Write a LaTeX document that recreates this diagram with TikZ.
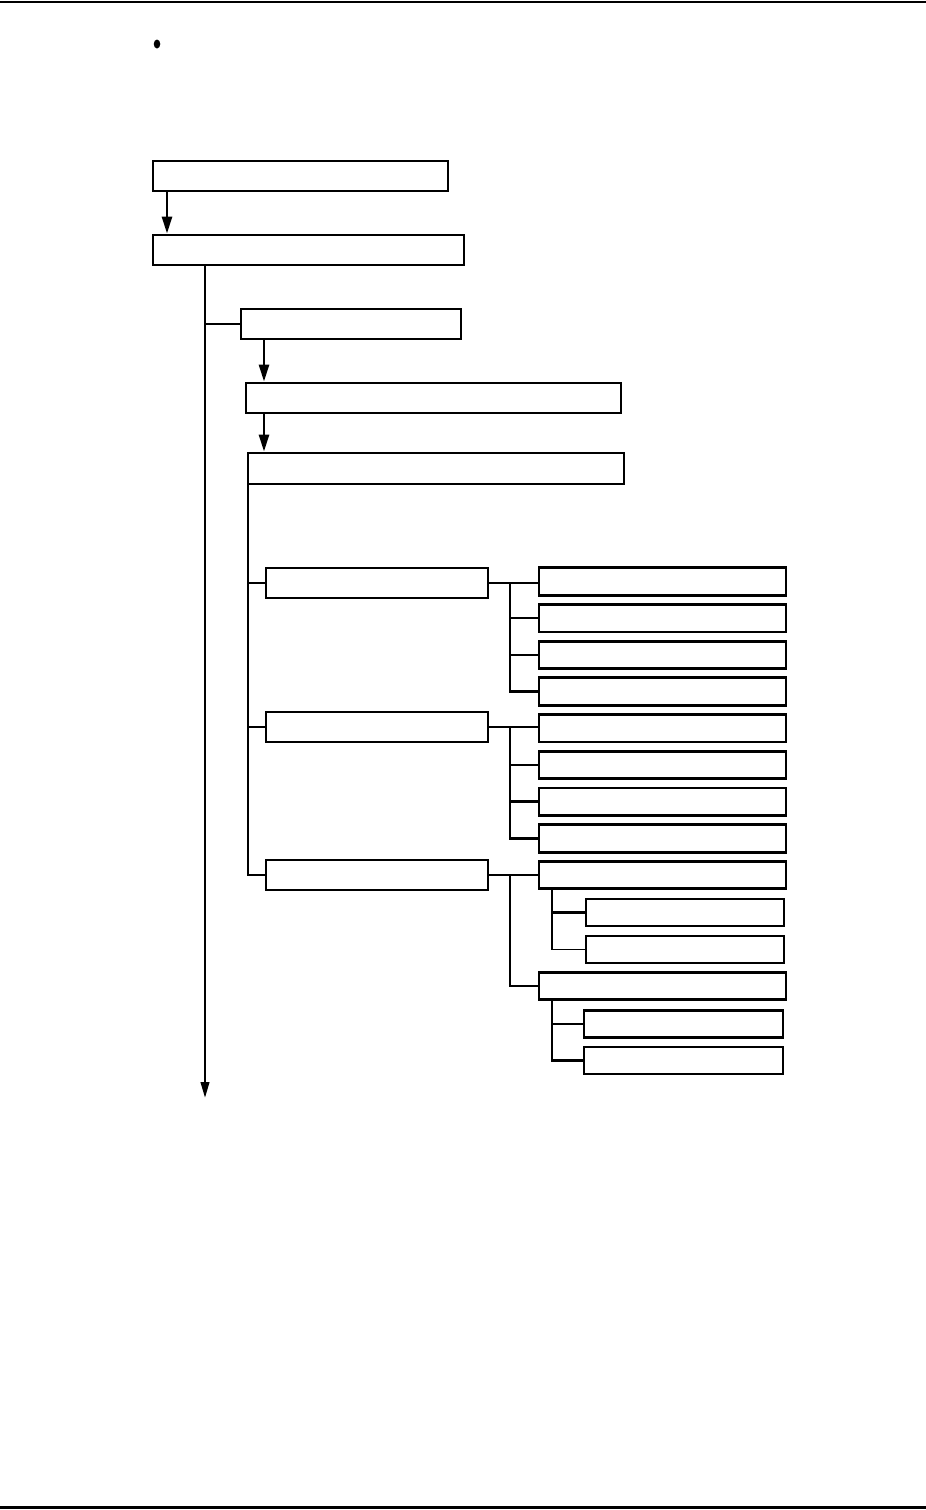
\documentclass[tikz,border=0pt]{standalone}
\usepackage{tikz}
\usetikzlibrary{arrows.meta, positioning, shapes.geometric}

\begin{document}
\begin{tikzpicture}[
    x=1pt, y=-1pt,
    box/.style={draw, line width=2.8pt, inner sep=0pt, minimum height=30pt},
    wide/.style={box, minimum width=#1},
    link/.style={line width=2.5pt},
    thinlink/.style={line width=1.2pt},
    arrow/.style={link, -{Triangle[length=17pt, width=10pt]}}
]
    \useasboundingbox (0,0) rectangle (926,1510);
    \draw[line width=2pt] (0,1.5) -- (926,1.5);
    \draw[line width=2.6pt] (0,1507.5) -- (926,1507.5);

    \node[ellipse, fill, inner sep=0pt, minimum width=6.5pt, minimum height=9pt] (dot) at (157,44) {};

    \node[wide=295pt] (a) at (300.5,176) {};
    \node[wide=311pt] (b) at (308.5,250) {};
    \node[wide=220pt] (c) at (351,324) {};
    \node[wide=375pt] (d) at (433.5,398) {};
    \node[wide=376pt, minimum height=31pt] (e) at (436,468.5) {};

    \node[wide=222pt] (f1) at (377,583) {};
    \node[wide=222pt] (f2) at (377,727) {};
    \node[wide=222pt] (f3) at (377,875) {};

    \foreach \i in {1,...,8}
        \node[wide=247pt, minimum height=27.5pt] (g\i) at (662.5,{581.5+36.7*(\i-1)}) {};

    \node[wide=247pt, minimum height=27.5pt] (h1) at (662.5,875) {};
    \node[wide=198pt, minimum height=27pt] (i1) at (685,912.5) {};
    \node[wide=198pt, minimum height=27pt] (i2) at (685,949.5) {};
    \node[wide=247pt, minimum height=27.5pt] (h2) at (662.5,986) {};
    \node[wide=199pt, minimum height=27pt] (i3) at (683.5,1024) {};
    \node[wide=199pt, minimum height=27pt] (i4) at (683.5,1060.5) {};

    \coordinate (ax) at (167,0);
    \coordinate (cx) at (264,0);
    \coordinate (ex) at (248,0);
    \coordinate (gx) at (510,0);
    \coordinate (hx) at (552,0);
    \coordinate (trunkend) at (205,1098);

    \draw[arrow] (a.south -| ax) -- (b.north -| ax);
    \draw[link, -{Triangle[length=16pt, width=8.5pt]}] (b.south -| trunkend) -- (trunkend);
    \draw[link] (c.west -| trunkend) -- (c.west);
    \draw[arrow] (c.south -| cx) -- (d.north -| cx);
    \draw[arrow] (d.south -| cx) -- (e.north -| cx);

    \draw[link] (e.south -| ex) |- (f3.west);
    \foreach \f in {f1,f2}
        \draw[link] (\f.west -| ex) -- (\f.west);

    \draw[thinlink] (f1.east) -- (f1.east -| g1.west);
    \draw[link] (f1.east -| gx) |- (g4.west);
    \foreach \i in {2,3}
        \draw[link] (g\i.west -| gx) -- (g\i.west);

    \draw[thinlink] (f2.east) -- (f2.east -| g5.west);
    \draw[link] (f2.east -| gx) |- (g8.west);
    \foreach \i in {6,7}
        \draw[link] (g\i.west -| gx) -- (g\i.west);

    \draw[thinlink] (f3.east) -- (h1.west);
    \draw[link] (h1.west -| gx) |- (h2.west);

    \draw[thinlink] (h1.south -| hx) |- (i2.west);
    \draw[link] (i1.west -| hx) -- (i1.west);
    \draw[link] (h2.south -| hx) |- (i4.west);
    \draw[link] (i3.west -| hx) -- (i3.west);
\end{tikzpicture}
\end{document}
